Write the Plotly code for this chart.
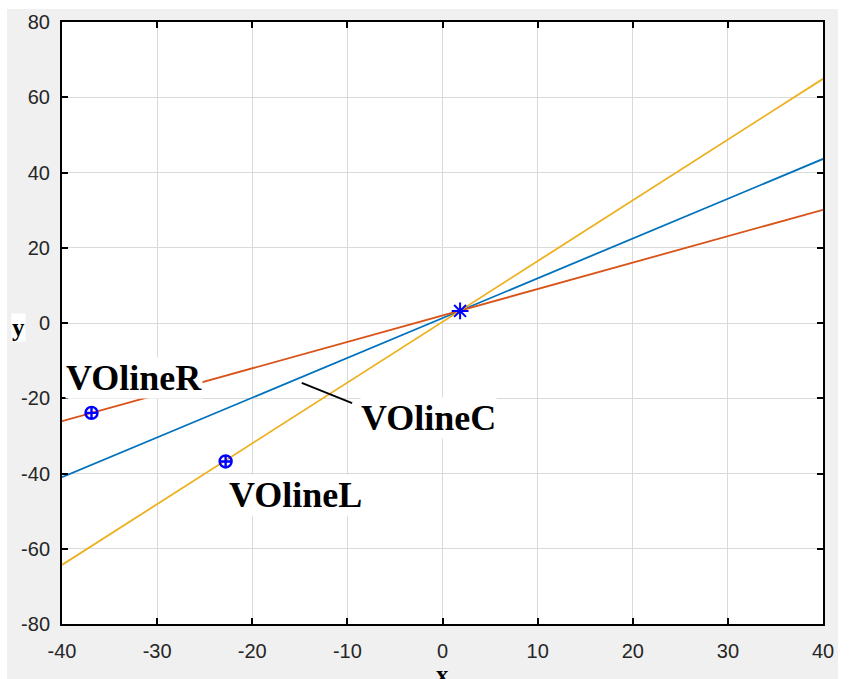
import plotly.graph_objects as go

# ---- data ----
x_ends = [-40, 40]
y_lineL = [-64.3, 64.9]   # VOlineL (orange)
y_lineC = [-41.0, 43.6]   # VOlineC (blue)
y_lineR = [-26.1, 30.1]   # VOlineR (red)

pt_R = ([-36.9], [-23.9])
pt_L = ([-22.8], [-36.8])
pt_X = ([1.85], [3.2])

labels = ["VOlineR", "VOlineC", "VOlineL"]
label_x = [-32.4, -1.5, -15.5]
label_y = [-14.6, -25.3, -45.6]
leader_x = [-14.8, -9.5]
leader_y = [-15.9, -21.3]

x_ticks = [-40, -30, -20, -10, 0, 10, 20, 30, 40]
y_ticks = [-80, -60, -40, -20, 0, 20, 40, 60, 80]

fig = go.Figure()
fig.add_trace(go.Scatter(x=x_ends, y=y_lineC, mode="lines",
                         line=dict(color="#0072BD", width=1.8), showlegend=False))
fig.add_trace(go.Scatter(x=x_ends, y=y_lineR, mode="lines",
                         line=dict(color="#D95319", width=1.8), showlegend=False))
fig.add_trace(go.Scatter(x=x_ends, y=y_lineL, mode="lines",
                         line=dict(color="#EDB120", width=1.8), showlegend=False))
fig.add_trace(go.Scatter(x=leader_x, y=leader_y, mode="lines",
                         line=dict(color="black", width=1.8), showlegend=False))
fig.add_trace(go.Scatter(x=pt_R[0] + pt_L[0], y=pt_R[1] + pt_L[1], mode="markers",
                         marker=dict(symbol="circle-cross-open", size=12, color="#0000FF",
                                     line=dict(width=2.4, color="#0000FF")),
                         showlegend=False))
fig.add_trace(go.Scatter(x=pt_X[0], y=pt_X[1], mode="markers",
                         marker=dict(symbol="asterisk-open", size=14, color="#0000FF",
                                     line=dict(width=2, color="#0000FF")),
                         showlegend=False))

for t, lx, ly in zip(labels, label_x, label_y):
    fig.add_annotation(x=lx, y=ly, xref="x", yref="y", text="<b>" + t + "</b>",
                       showarrow=False, bgcolor="white", borderpad=0,
                       font=dict(family="Liberation Serif", size=36, color="black"),
                       xanchor="center", yanchor="middle")

fig.add_annotation(x=-0.0575, y=0.492, xref="paper", yref="paper", text="<b>y</b>",
                   showarrow=False, bgcolor="white", borderpad=0,
                   font=dict(family="Liberation Serif", size=25, color="black"),
                   xanchor="center", yanchor="middle")
fig.add_annotation(x=0.5, y=-0.084, xref="paper", yref="paper", text="<b>x</b>",
                   showarrow=False, borderpad=0,
                   font=dict(family="Liberation Serif", size=25, color="black"),
                   xanchor="center", yanchor="middle")

# gray figure background and white plot area
fig.add_shape(type="rect", xref="paper", yref="paper", x0=-0.0723, x1=1.0197,
              y0=-0.2, y1=1.0216, fillcolor="#F0F0F0", line=dict(width=0), layer="below")
fig.add_shape(type="rect", xref="paper", yref="paper", x0=0, x1=1, y0=0, y1=1,
              fillcolor="white", line=dict(width=0), layer="below")

axis_common = dict(showgrid=True, gridcolor="#DADADA", gridwidth=1,
                   showline=True, linecolor="black", linewidth=2, mirror="ticks",
                   ticks="inside", ticklen=6, tickwidth=1.5, tickcolor="black",
                   zeroline=False,
                   tickfont=dict(family="Liberation Sans", size=20, color="#262626"))

fig.update_xaxes(range=[-40, 40], tickvals=x_ticks, ticktext=[str(v) for v in x_ticks],
                 ticklabelstandoff=8, **axis_common)
fig.update_yaxes(range=[-80, 80], tickvals=y_ticks, ticktext=[str(v) for v in y_ticks],
                 ticklabelstandoff=6, **axis_common)

fig.update_layout(width=849, height=679, paper_bgcolor="white", plot_bgcolor="white",
                  margin=dict(l=62, r=26, t=22, b=55))

fig.write_html("out.html")
